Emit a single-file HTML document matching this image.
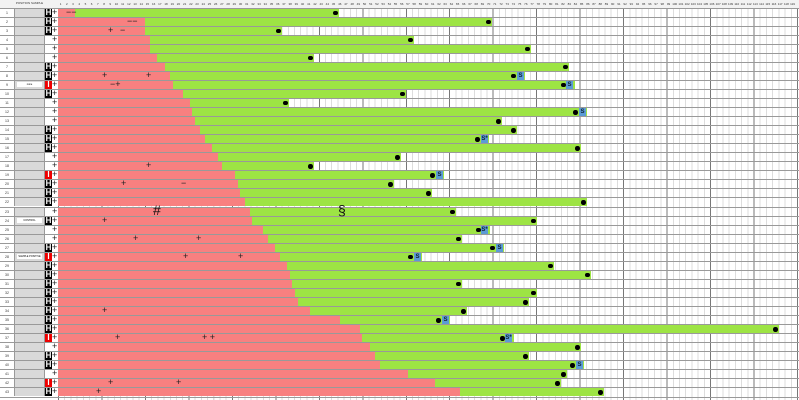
<!DOCTYPE html>
<html><head><meta charset="utf-8"><style>
body{margin:0;width:799px;height:400px;overflow:hidden;background:#fff;font-family:"Liberation Sans",sans-serif}
#w{position:relative;width:799px;height:400px}
#hdr{position:absolute;left:0;top:0;width:799px;height:8.5px;background:#f2f2f2;border-bottom:1px solid #999;box-sizing:border-box}
#hdr .t{position:absolute;left:14px;width:31px;top:1px;font-size:3px;text-align:center;color:#333}
#cols{position:absolute;left:57.5px;top:1.5px;display:flex}
#cols span{width:6.21px;font-size:3px;text-align:center;color:#333;flex:none}
#grid{position:absolute;left:57.5px;top:8.5px;width:742px;height:391px;
background:repeating-linear-gradient(90deg,#777 0 1px,transparent 1px 43.47px),repeating-linear-gradient(90deg,#ddd 0 1px,transparent 1px 6.21px)}
#rows{position:absolute;left:0;top:8.5px;width:799px}
.row{position:relative;height:9.05px;border-bottom:1px solid #999;box-sizing:border-box}
.n{position:absolute;left:0;width:14px;top:2px;font-size:3.5px;text-align:center;color:#333}
.g{position:absolute;left:14px;width:31px;top:0;height:8px;background:#d9d9d9;border-left:1px solid #999;border-right:1px solid #999;box-sizing:border-box}
.h,.i,.wt{position:absolute;left:45px;width:7px;top:0;height:8px;font-size:8px;line-height:8px;font-weight:bold;text-align:center}
.h{background:#000;color:#fff}.i{background:#e00;color:#fff}.wt{background:#fff}
.p{position:absolute;left:52px;top:-1px;font-size:9px;line-height:9px;color:#222}
.r{position:absolute;left:57.5px;top:0;height:8px;width:calc(var(--r) - 57.5px);background:#f88080}
.gr{position:absolute;left:var(--r);top:0;height:8px;width:calc(var(--d) - var(--r) + 4px);background:#9de444}
.d{position:absolute;left:calc(var(--d) - 2px);top:2px;width:4.5px;height:4.5px;border-radius:50%;background:#000}
.s{position:absolute;top:0;height:8px;width:7px;background:#5b9bd5;color:#123;font-size:6px;line-height:8px;text-align:center;font-weight:bold}
.lab{position:absolute;left:17px;width:25px;top:1.5px;height:5px;background:#fff;font-size:2.5px;line-height:5px;text-align:center}
.m{position:absolute;top:-1px;font-size:9px;line-height:9px;color:#222}
.big{position:absolute;font-size:14px;color:#111}
</style></head><body><div id="w">
<div id="grid"></div>
<div id="hdr"><div class="t">POSITION SAMPLE</div><div id="cols">
<span>1</span><span>2</span><span>3</span><span>4</span><span>5</span><span>6</span><span>7</span><span>8</span><span>9</span><span>10</span><span>11</span><span>12</span><span>13</span><span>14</span><span>15</span><span>16</span><span>17</span><span>18</span><span>19</span><span>20</span><span>21</span><span>22</span><span>23</span><span>24</span><span>25</span><span>26</span><span>27</span><span>28</span><span>29</span><span>30</span><span>31</span><span>32</span><span>33</span><span>34</span><span>35</span><span>36</span><span>37</span><span>38</span><span>39</span><span>40</span><span>41</span><span>42</span><span>43</span><span>44</span><span>45</span><span>46</span><span>47</span><span>48</span><span>49</span><span>50</span><span>51</span><span>52</span><span>53</span><span>54</span><span>55</span><span>56</span><span>57</span><span>58</span><span>59</span><span>60</span><span>61</span><span>62</span><span>63</span><span>64</span><span>65</span><span>66</span><span>67</span><span>68</span><span>69</span><span>70</span><span>71</span><span>72</span><span>73</span><span>74</span><span>75</span><span>76</span><span>77</span><span>78</span><span>79</span><span>80</span><span>81</span><span>82</span><span>83</span><span>84</span><span>85</span><span>86</span><span>87</span><span>88</span><span>89</span><span>90</span><span>91</span><span>92</span><span>93</span><span>94</span><span>95</span><span>96</span><span>97</span><span>98</span><span>99</span><span>100</span><span>101</span><span>102</span><span>103</span><span>104</span><span>105</span><span>106</span><span>107</span><span>108</span><span>109</span><span>110</span><span>111</span><span>112</span><span>113</span><span>114</span><span>115</span><span>116</span><span>117</span><span>118</span><span>119</span>
</div></div>
<div id="rows">
<div class="row" style="--r:75px;--d:335px"><span class="n">1</span><span class="g"></span><span class="h">H</span><span class="p">+</span><div class="r"></div><div class="gr"></div><i class="d"></i><span class="m" style="left:66px">−−</span></div>
<div class="row" style="--r:145px;--d:488px"><span class="n">2</span><span class="g"></span><span class="h">H</span><span class="p">+</span><div class="r"></div><div class="gr"></div><i class="d"></i><span class="m" style="left:127px">−−</span></div>
<div class="row" style="--r:145px;--d:278px"><span class="n">3</span><span class="g"></span><span class="h">H</span><span class="p">+</span><div class="r"></div><div class="gr"></div><i class="d"></i><span class="m" style="left:108px">+</span><span class="m" style="left:120px">−</span></div>
<div class="row" style="--r:150px;--d:410px"><span class="n">4</span><span class="g"></span><span class="wt"></span><span class="p">+</span><div class="r"></div><div class="gr"></div><i class="d"></i></div>
<div class="row" style="--r:150px;--d:527px"><span class="n">5</span><span class="g"></span><span class="wt"></span><span class="p">+</span><div class="r"></div><div class="gr"></div><i class="d"></i></div>
<div class="row" style="--r:157px;--d:310px"><span class="n">6</span><span class="g"></span><span class="wt"></span><span class="p">+</span><div class="r"></div><div class="gr"></div><i class="d"></i></div>
<div class="row" style="--r:165px;--d:565px"><span class="n">7</span><span class="g"></span><span class="h">H</span><span class="p">+</span><div class="r"></div><div class="gr"></div><i class="d"></i></div>
<div class="row" style="--r:170px;--d:513px"><span class="n">8</span><span class="g"></span><span class="h">H</span><span class="p">+</span><div class="r"></div><div class="gr" style="width:calc(var(--d) - var(--r) + 12px)"></div><i class="d"></i><b class="s" style="left:517px">S</b><span class="m" style="left:102px">+</span><span class="m" style="left:146px">+</span></div>
<div class="row" style="--r:173px;--d:563px"><span class="n">9</span><span class="g"><span class="lab" style="left:2px">none</span></span><span class="i">I</span><span class="p">+</span><div class="r"></div><div class="gr" style="width:calc(var(--d) - var(--r) + 12px)"></div><i class="d"></i><b class="s" style="left:566px">S</b><span class="m" style="left:110px">−+</span></div>
<div class="row" style="--r:183px;--d:402px"><span class="n">10</span><span class="g"></span><span class="h">H</span><span class="p">+</span><div class="r"></div><div class="gr"></div><i class="d"></i></div>
<div class="row" style="--r:190px;--d:285px"><span class="n">11</span><span class="g"></span><span class="wt"></span><span class="p">+</span><div class="r"></div><div class="gr"></div><i class="d"></i></div>
<div class="row" style="--r:192px;--d:575px"><span class="n">12</span><span class="g"></span><span class="wt"></span><span class="p">+</span><div class="r"></div><div class="gr" style="width:calc(var(--d) - var(--r) + 12px)"></div><i class="d"></i><b class="s" style="left:579px">S</b></div>
<div class="row" style="--r:195px;--d:498px"><span class="n">13</span><span class="g"></span><span class="wt"></span><span class="p">+</span><div class="r"></div><div class="gr"></div><i class="d"></i></div>
<div class="row" style="--r:200px;--d:513px"><span class="n">14</span><span class="g"></span><span class="h">H</span><span class="p">+</span><div class="r"></div><div class="gr"></div><i class="d"></i></div>
<div class="row" style="--r:205px;--d:477px"><span class="n">15</span><span class="g"></span><span class="h">H</span><span class="p">+</span><div class="r"></div><div class="gr" style="width:calc(var(--d) - var(--r) + 12px)"></div><i class="d"></i><b class="s" style="left:481px">S*</b></div>
<div class="row" style="--r:212px;--d:577px"><span class="n">16</span><span class="g"></span><span class="h">H</span><span class="p">+</span><div class="r"></div><div class="gr"></div><i class="d"></i></div>
<div class="row" style="--r:218px;--d:397px"><span class="n">17</span><span class="g"></span><span class="wt"></span><span class="p">+</span><div class="r"></div><div class="gr"></div><i class="d"></i></div>
<div class="row" style="--r:222px;--d:310px"><span class="n">18</span><span class="g"></span><span class="wt"></span><span class="p">+</span><div class="r"></div><div class="gr"></div><i class="d"></i><span class="m" style="left:146px">+</span></div>
<div class="row" style="--r:235px;--d:432px"><span class="n">19</span><span class="g"></span><span class="i">I</span><span class="p">+</span><div class="r"></div><div class="gr" style="width:calc(var(--d) - var(--r) + 12px)"></div><i class="d"></i><b class="s" style="left:436px">S</b></div>
<div class="row" style="--r:238px;--d:390px"><span class="n">20</span><span class="g"></span><span class="h">H</span><span class="p">+</span><div class="r"></div><div class="gr"></div><i class="d"></i><span class="m" style="left:121px">+</span><span class="m" style="left:181px">−</span></div>
<div class="row" style="--r:240px;--d:428px"><span class="n">21</span><span class="g"></span><span class="h">H</span><span class="p">+</span><div class="r"></div><div class="gr"></div><i class="d"></i></div>
<div class="row" style="--r:245px;--d:583px"><span class="n">22</span><span class="g"></span><span class="h">H</span><span class="p">+</span><div class="r"></div><div class="gr"></div><i class="d"></i></div>
<div class="row" style="--r:250px;--d:452px"><span class="n">23</span><span class="g"></span><span class="wt"></span><span class="p">+</span><div class="r"></div><div class="gr"></div><i class="d"></i></div>
<div class="row" style="--r:252px;--d:533px"><span class="n">24</span><span class="g"><span class="lab" style="left:2px">CONTROL</span></span><span class="h">H</span><span class="p">+</span><div class="r"></div><div class="gr"></div><i class="d"></i><span class="m" style="left:102px">+</span></div>
<div class="row" style="--r:263px;--d:478px"><span class="n">25</span><span class="g"></span><span class="wt"></span><span class="p">+</span><div class="r"></div><div class="gr" style="width:calc(var(--d) - var(--r) + 12px)"></div><i class="d"></i><b class="s" style="left:481px">S*</b></div>
<div class="row" style="--r:268px;--d:458px"><span class="n">26</span><span class="g"></span><span class="wt"></span><span class="p">+</span><div class="r"></div><div class="gr"></div><i class="d"></i><span class="m" style="left:133px">+</span><span class="m" style="left:196px">+</span></div>
<div class="row" style="--r:275px;--d:492px"><span class="n">27</span><span class="g"></span><span class="h">H</span><span class="p">+</span><div class="r"></div><div class="gr" style="width:calc(var(--d) - var(--r) + 12px)"></div><i class="d"></i><b class="s" style="left:496px">S</b></div>
<div class="row" style="--r:280px;--d:410px"><span class="n">28</span><span class="g"><span class="lab" style="left:2px">SAMPLE POSITIVE</span></span><span class="i">I</span><span class="p">+</span><div class="r"></div><div class="gr" style="width:calc(var(--d) - var(--r) + 12px)"></div><i class="d"></i><b class="s" style="left:414px">S</b><span class="m" style="left:183px">+</span><span class="m" style="left:238px">+</span></div>
<div class="row" style="--r:287px;--d:550px"><span class="n">29</span><span class="g"></span><span class="h">H</span><span class="p">+</span><div class="r"></div><div class="gr"></div><i class="d"></i></div>
<div class="row" style="--r:290px;--d:587px"><span class="n">30</span><span class="g"></span><span class="h">H</span><span class="p">+</span><div class="r"></div><div class="gr"></div><i class="d"></i></div>
<div class="row" style="--r:292px;--d:458px"><span class="n">31</span><span class="g"></span><span class="h">H</span><span class="p">+</span><div class="r"></div><div class="gr"></div><i class="d"></i></div>
<div class="row" style="--r:295px;--d:533px"><span class="n">32</span><span class="g"></span><span class="h">H</span><span class="p">+</span><div class="r"></div><div class="gr"></div><i class="d"></i></div>
<div class="row" style="--r:298px;--d:525px"><span class="n">33</span><span class="g"></span><span class="h">H</span><span class="p">+</span><div class="r"></div><div class="gr"></div><i class="d"></i></div>
<div class="row" style="--r:310px;--d:463px"><span class="n">34</span><span class="g"></span><span class="h">H</span><span class="p">+</span><div class="r"></div><div class="gr"></div><i class="d"></i><span class="m" style="left:102px">+</span></div>
<div class="row" style="--r:340px;--d:438px"><span class="n">35</span><span class="g"></span><span class="h">H</span><span class="p">+</span><div class="r"></div><div class="gr" style="width:calc(var(--d) - var(--r) + 12px)"></div><i class="d"></i><b class="s" style="left:442px">S</b></div>
<div class="row" style="--r:360px;--d:775px"><span class="n">36</span><span class="g"></span><span class="h">H</span><span class="p">+</span><div class="r"></div><div class="gr"></div><i class="d"></i></div>
<div class="row" style="--r:362px;--d:502px"><span class="n">37</span><span class="g"></span><span class="i">I</span><span class="p">+</span><div class="r"></div><div class="gr" style="width:calc(var(--d) - var(--r) + 12px)"></div><i class="d"></i><b class="s" style="left:505px">S*</b><span class="m" style="left:115px">+</span><span class="m" style="left:202px">+ +</span></div>
<div class="row" style="--r:370px;--d:577px"><span class="n">38</span><span class="g"></span><span class="wt"></span><span class="p">+</span><div class="r"></div><div class="gr"></div><i class="d"></i></div>
<div class="row" style="--r:375px;--d:525px"><span class="n">39</span><span class="g"></span><span class="h">H</span><span class="p">+</span><div class="r"></div><div class="gr"></div><i class="d"></i></div>
<div class="row" style="--r:380px;--d:572px"><span class="n">40</span><span class="g"></span><span class="h">H</span><span class="p">+</span><div class="r"></div><div class="gr" style="width:calc(var(--d) - var(--r) + 12px)"></div><i class="d"></i><b class="s" style="left:576px">S</b></div>
<div class="row" style="--r:408px;--d:563px"><span class="n">41</span><span class="g"></span><span class="wt"></span><span class="p">+</span><div class="r"></div><div class="gr"></div><i class="d"></i></div>
<div class="row" style="--r:435px;--d:557px"><span class="n">42</span><span class="g"></span><span class="i">I</span><span class="p">+</span><div class="r"></div><div class="gr"></div><i class="d"></i><span class="m" style="left:108px">+</span><span class="m" style="left:176px">+</span></div>
<div class="row" style="--r:460px;--d:600px"><span class="n">43</span><span class="g"></span><span class="h">H</span><span class="p">+</span><div class="r"></div><div class="gr"></div><i class="d"></i><span class="m" style="left:96px">+</span></div>
</div>
<div class="big" style="left:153px;top:202px">#</div>
<div class="big" style="left:338px;top:202px">§</div>
</div></body></html>
